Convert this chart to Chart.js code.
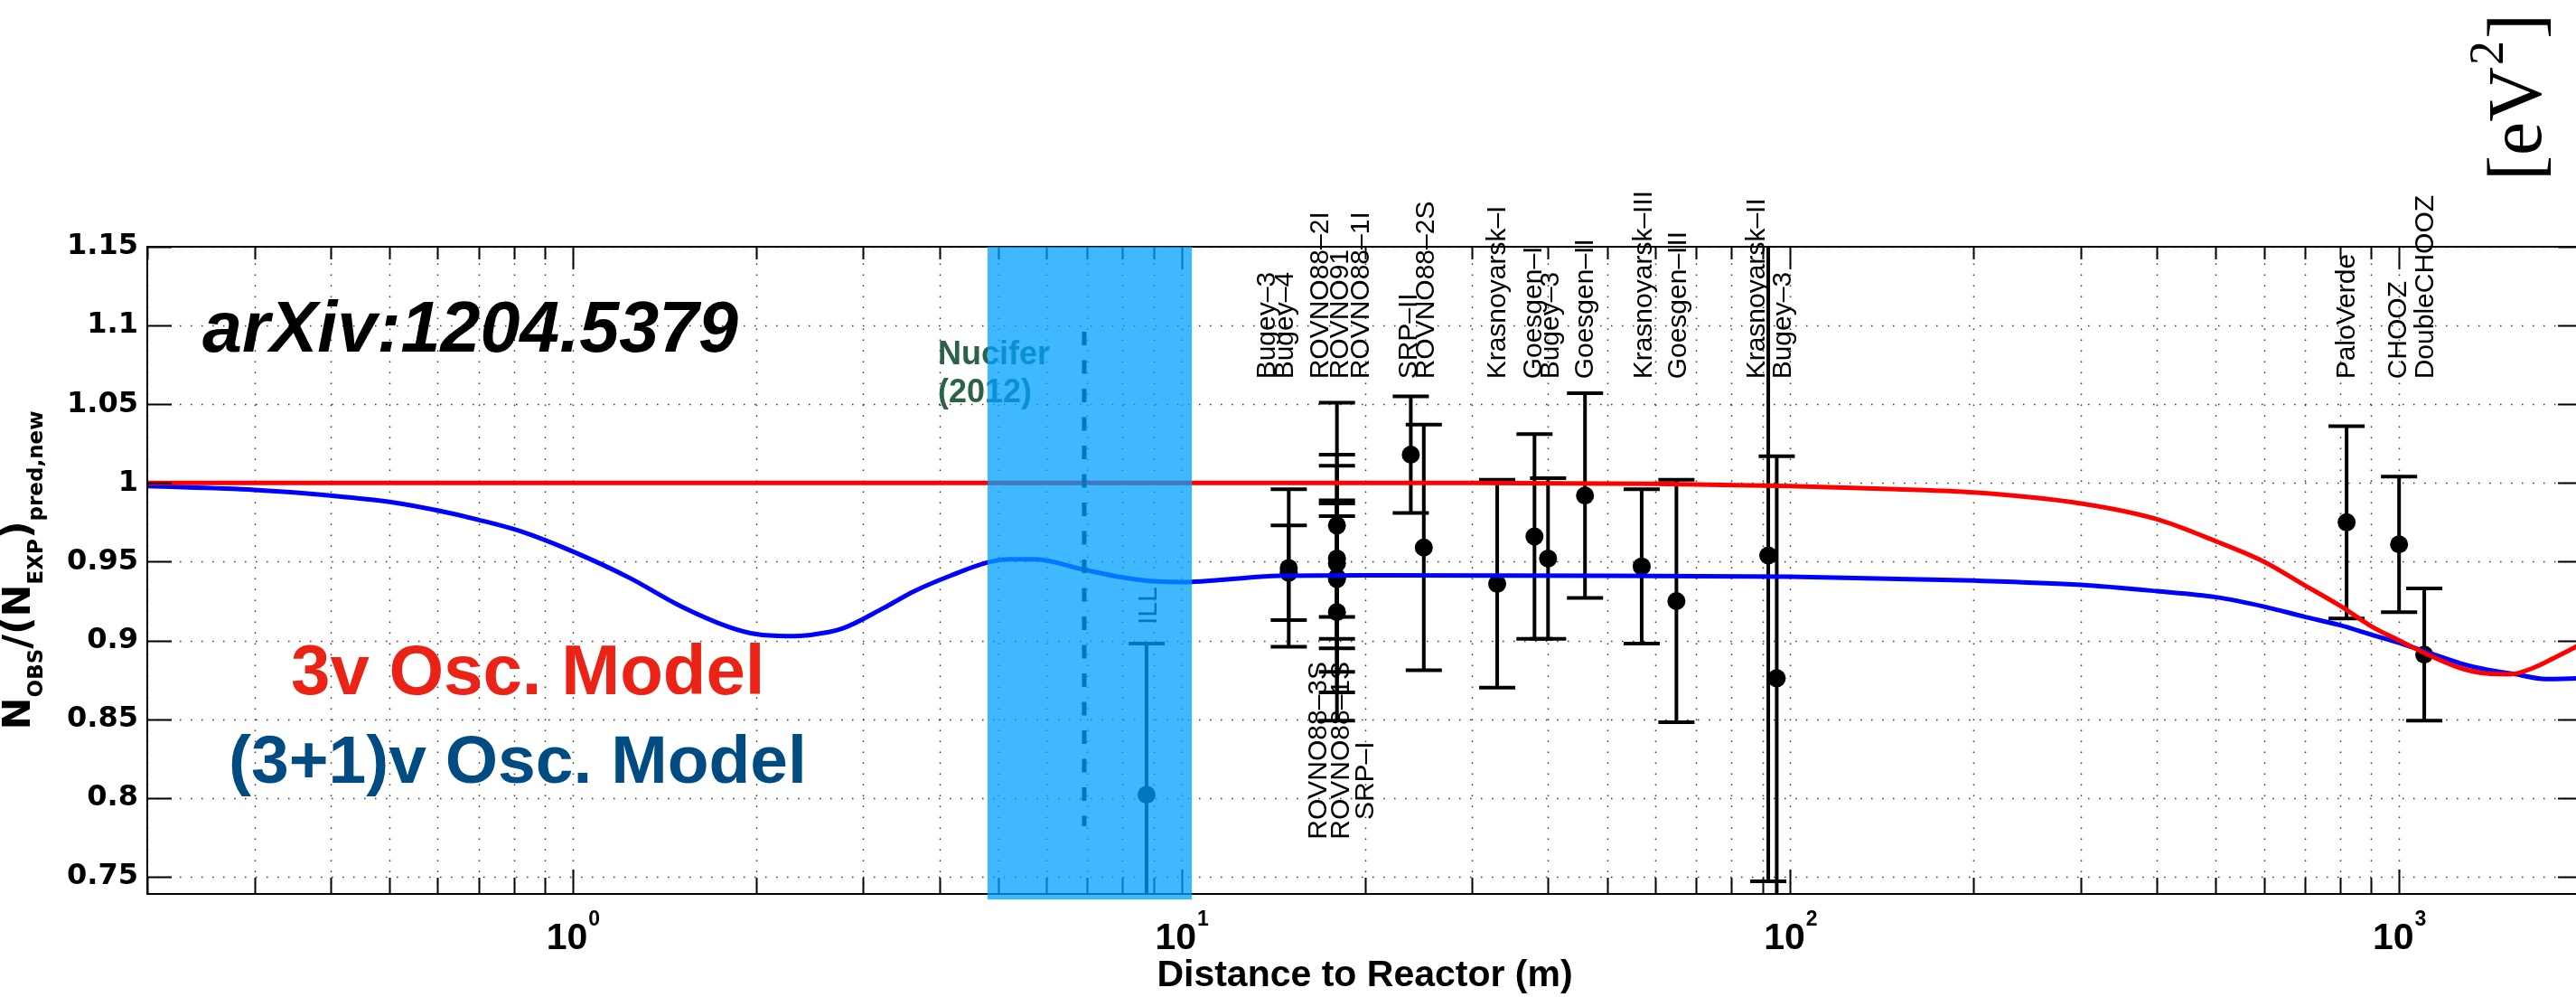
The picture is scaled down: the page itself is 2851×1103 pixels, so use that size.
<!DOCTYPE html>
<html>
<head>
<meta charset="utf-8">
<script src="https://cdn.jsdelivr.net/npm/chart.js@4.4.1/dist/chart.umd.min.js"></script>
<style>
  html, body { margin: 0; padding: 0; background: #fff; overflow: hidden; }
  canvas { display: block; }
</style>
</head>
<body>
<canvas id="reactorChart" width="2870" height="1103"></canvas>
<script>
// 3 flavour oscillation curve
var redDist = [0.2, 1, 10, 30, 60, 100, 150, 200, 300, 400, 500, 600, 700, 800, 900, 1000, 1130, 1260, 1390, 1520, 1660, 1800, 2000];
var redRatio = [1.0, 1.0, 1.0, 1.0, 0.9995, 0.998, 0.996, 0.994, 0.987, 0.977, 0.963, 0.950, 0.935, 0.922, 0.909, 0.900, 0.890, 0.8825, 0.879, 0.8785, 0.8825, 0.889, 0.898];

// 3+1 oscillation curve
var blueDist = [0.2, 0.3, 0.4, 0.5, 0.6, 0.7, 0.82, 1.0, 1.24, 1.5, 1.8, 2.0, 2.25, 2.46, 2.77, 3.24, 3.64, 4.16, 4.82, 5.2, 5.75, 6.9, 8.0, 9.1, 10.1, 11.6, 14.5, 20, 50, 100, 200, 300, 400, 500, 600, 700, 800, 900, 1000, 1130, 1260, 1390, 1550, 1740, 2000];
var blueRatio = [0.998, 0.9956, 0.992, 0.988, 0.9825, 0.9766, 0.9694, 0.9565, 0.9397, 0.922, 0.9087, 0.904, 0.9028, 0.9035, 0.9075, 0.9206, 0.9313, 0.9409, 0.9497, 0.9516, 0.9516, 0.945, 0.940, 0.9374, 0.9371, 0.9385, 0.941, 0.9413, 0.941, 0.9405, 0.938, 0.9353, 0.9313, 0.9275, 0.9215, 0.915, 0.9097, 0.9037, 0.8985, 0.8916, 0.8855, 0.8815, 0.8786, 0.8755, 0.876];

// measured ratios: Bugey-3, Bugey-4, ROVNO91, ROVNO88-1I/2I/1S/3S, SRP-I, SRP-II, ROVNO88-2S,
// Krasnoyarsk-I, Goesgen-I, Bugey-3, Goesgen-II, Krasnoyarsk-III, Goesgen-III, Krasnoyarsk-II,
// Bugey-3, ILL, PaloVerde, CHOOZ, DoubleCHOOZ
var expDist = [15, 15, 18, 18, 18, 18, 18, 18, 23.8, 25, 33, 38, 40, 46, 57, 65, 92, 95, 8.76, 820, 1000, 1100];
var expRatio = [0.946, 0.943, 0.940, 0.918, 0.949, 0.973, 0.939, 0.952, 1.018, 0.959, 0.936, 0.966, 0.952, 0.992, 0.947, 0.925, 0.954, 0.876, 0.802, 0.975, 0.961, 0.891];
var expError = [0.050, 0.030, 0.039, 0.069, 0.069, 0.078, 0.072, 0.037, 0.037, 0.078, 0.066, 0.065, 0.051, 0.065, 0.049, 0.077, 0.207, 0.141, 0.096, 0.061, 0.043, 0.042];

// experiment name tags (anchored in data units, text runs upward)
var tagText = ['Bugey–3', 'Bugey–4', 'ROVNO88–2I', 'ROVNO91', 'ROVNO88–1I', 'SRP–II', 'ROVNO88–2S',
  'Krasnoyarsk–I', 'Goesgen–I', 'Bugey–3', 'Goesgen–II', 'Krasnoyarsk–III', 'Goesgen–III',
  'Krasnoyarsk–II', 'Bugey–3', 'PaloVerde', 'CHOOZ', 'DoubleCHOOZ',
  'ROVNO88–3S', 'ROVNO88–1S', 'SRP–I', 'ILL'];
var tagDist = [13.84, 14.8, 16.91, 18.27, 19.77, 23.66, 25.27, 33.1, 37.9, 40.5, 46.1, 57.5, 65.5, 88.2, 97.4, 821, 998, 1105, 16.8, 18.33, 20.07, 8.845];
var tagRatio = [1.066, 1.066, 1.066, 1.066, 1.066, 1.066, 1.066, 1.066, 1.066, 1.066, 1.066, 1.066, 1.066, 1.066, 1.066, 1.066, 1.066, 1.066, 0.7736, 0.7736, 0.786, 0.91];

// Nucifer
var nuciferBand = [4.8, 10.4];
var nuciferBandRatio = [0.7355, 1.15];
var nuciferDist = 6.92;
var nuciferRange = [0.782, 1.096];

var xDecades = [1, 10, 100, 1000];
var xDecadeExp = ['0', '1', '2', '3'];
var yTicks = [0.75, 0.8, 0.85, 0.9, 0.95, 1.0, 1.05, 1.1, 1.15];
var yTickLabels = ['0.75', '0.8', '0.85', '0.9', '0.95', '1', '1.05', '1.1', '1.15'];

var xGrid = [];
for (var e = -1; e <= 3; e++) {
  for (var k = 1; k <= 9; k++) {
    var v = +(k * Math.pow(10, e)).toPrecision(3);
    if (v >= 0.2 && v <= 2000) xGrid.push(v);
  }
}

function toPoints(xs, ys) {
  return xs.map(function (x, i) { return { x: x, y: ys[i] }; });
}

function rotatedText(ctx, text, x, y) {
  ctx.save();
  ctx.translate(x, y);
  ctx.rotate(-Math.PI / 2);
  ctx.fillText(text, 0, 0);
  ctx.restore();
}

var decor = {
  id: 'decor',
  beforeDatasetsDraw: function (chart) {
    var ctx = chart.ctx, area = chart.chartArea;
    var xs = chart.scales.x, ys = chart.scales.y;
    ctx.save();
    ctx.strokeStyle = 'rgba(0,0,0,0.8)';
    ctx.lineWidth = 1.5;
    ctx.setLineDash([1.5, 10.5]);
    xGrid.forEach(function (v) {
      var px = Math.round(xs.getPixelForValue(v)) + 0.5;
      ctx.beginPath();
      ctx.moveTo(px, area.bottom);
      ctx.lineTo(px, area.top);
      ctx.stroke();
    });
    yTicks.forEach(function (v) {
      var py = Math.round(ys.getPixelForValue(v)) + 0.5;
      ctx.beginPath();
      ctx.moveTo(area.left, py);
      ctx.lineTo(area.right, py);
      ctx.stroke();
    });
    ctx.setLineDash([]);

    // error bars
    ctx.beginPath();
    ctx.rect(area.left, area.top, area.right - area.left, area.bottom - area.top);
    ctx.clip();
    ctx.strokeStyle = '#000';
    ctx.lineWidth = 4;
    expDist.forEach(function (d, i) {
      var px = xs.getPixelForValue(d);
      var top = ys.getPixelForValue(expRatio[i] + expError[i]);
      var bot = ys.getPixelForValue(expRatio[i] - expError[i]);
      ctx.beginPath();
      ctx.moveTo(px, top); ctx.lineTo(px, bot);
      ctx.moveTo(px - 20, top); ctx.lineTo(px + 20, top);
      ctx.moveTo(px - 20, bot); ctx.lineTo(px + 20, bot);
      ctx.stroke();
    });
    ctx.restore();
  },
  afterDraw: function (chart) {
    var ctx = chart.ctx, area = chart.chartArea;
    var xs = chart.scales.x, ys = chart.scales.y;
    ctx.save();

    // frame and inward ticks
    ctx.strokeStyle = '#000';
    ctx.lineWidth = 2;
    ctx.strokeRect(area.left, area.top, area.right - area.left, area.bottom - area.top);
    ctx.beginPath();
    xGrid.forEach(function (v) {
      var px = Math.round(xs.getPixelForValue(v)) + 0.5;
      var major = xDecades.indexOf(v) >= 0;
      ctx.moveTo(px, area.bottom); ctx.lineTo(px, area.bottom - (major ? 27 : 18));
      ctx.moveTo(px, area.top); ctx.lineTo(px, area.top + (major ? 25 : 14));
    });
    yTicks.forEach(function (v) {
      var py = Math.round(ys.getPixelForValue(v)) + 0.5;
      ctx.moveTo(area.left, py); ctx.lineTo(area.left + 27, py);
      ctx.moveTo(area.right, py); ctx.lineTo(area.right - 27, py);
    });
    ctx.stroke();

    // x tick labels 10^n
    ctx.fillStyle = '#000';
    ctx.textAlign = 'left';
    ctx.textBaseline = 'alphabetic';
    xDecades.forEach(function (v, i) {
      var px = xs.getPixelForValue(v);
      ctx.font = 'bold 41px "Liberation Sans"';
      var w1 = ctx.measureText('10').width;
      ctx.font = 'bold 23px "Liberation Sans"';
      var w2 = ctx.measureText(xDecadeExp[i]).width;
      var x0 = px - (w1 + w2) / 2;
      ctx.font = 'bold 41px "Liberation Sans"';
      ctx.fillText('10', x0, area.bottom + 61);
      ctx.font = 'bold 23px "Liberation Sans"';
      ctx.fillText(xDecadeExp[i], x0 + w1 + 1, area.bottom + 35);
    });

    // axis titles
    ctx.font = 'bold 41px "Liberation Sans"';
    ctx.textAlign = 'center';
    ctx.fillText('Distance to Reactor (m)', (area.left + area.right) / 2, area.bottom + 102);

    var parts = [['N', 0], ['OBS', 1], ['/(N', 0], ['EXP', 1], [')', 0], ['pred,new', 1]];
    var big = 'bold 43px "DejaVu Sans"', small = 'bold 23px "DejaVu Sans"';
    var total = 0;
    parts.forEach(function (p) {
      ctx.font = p[1] ? small : big;
      total += ctx.measureText(p[0]).width;
    });
    ctx.save();
    ctx.translate(33, (area.top + area.bottom) / 2);
    ctx.rotate(-Math.PI / 2);
    ctx.textAlign = 'left';
    var cx = -total / 2;
    parts.forEach(function (p) {
      ctx.font = p[1] ? small : big;
      ctx.fillText(p[0], cx, p[1] ? 14 : 0);
      cx += ctx.measureText(p[0]).width;
    });
    ctx.restore();

    // annotations
    ctx.textAlign = 'left';
    ctx.font = 'italic bold 79px "Liberation Sans"';
    ctx.fillStyle = '#000';
    ctx.fillText('arXiv:1204.5379', 224, 389);
    ctx.font = 'bold 78px "Liberation Sans"';
    ctx.fillStyle = '#eb2316';
    ctx.fillText('3v Osc. Model', 322, 768);
    ctx.font = 'bold 75px "Liberation Sans"';
    ctx.fillStyle = '#004b82';
    ctx.fillText('(3+1)v Osc. Model', 253, 866);
    ctx.font = 'bold 36px "Liberation Sans"';
    ctx.fillStyle = '#2b6348';
    ctx.fillText('Nucifer', 1038, 403);
    ctx.fillText('(2012)', 1038, 445);

    ctx.font = '30px "Liberation Sans"';
    ctx.fillStyle = '#000';
    ctx.textBaseline = 'middle';
    tagText.forEach(function (t, i) {
      rotatedText(ctx, t, xs.getPixelForValue(tagDist[i]), ys.getPixelForValue(tagRatio[i]));
    });

    // colour bar unit, cut at the edge
    ctx.save();
    ctx.translate(2812, 200);
    ctx.rotate(-Math.PI / 2);
    ctx.textBaseline = 'alphabetic';
    ctx.font = '84px "Liberation Serif"';
    ctx.fillText('[eV', 0, 0);
    var wa = ctx.measureText('[eV').width;
    ctx.font = '54px "Liberation Serif"';
    ctx.fillText('2', wa + 2, -42);
    var wb = ctx.measureText('2').width;
    ctx.font = '84px "Liberation Serif"';
    ctx.fillText(']', wa + wb + 4, 0);
    ctx.restore();

    // Nucifer position and acceptance band
    var nx = xs.getPixelForValue(nuciferDist);
    ctx.strokeStyle = '#000';
    ctx.lineWidth = 5;
    ctx.setLineDash([15, 16.5]);
    ctx.beginPath();
    ctx.moveTo(nx, ys.getPixelForValue(nuciferRange[1]));
    ctx.lineTo(nx, ys.getPixelForValue(nuciferRange[0]));
    ctx.stroke();
    ctx.setLineDash([]);

    var bx0 = xs.getPixelForValue(nuciferBand[0]);
    var bx1 = xs.getPixelForValue(nuciferBand[1]);
    var by0 = ys.getPixelForValue(nuciferBandRatio[1]);
    var by1 = ys.getPixelForValue(nuciferBandRatio[0]);
    ctx.fillStyle = 'rgba(0,160,255,0.75)';
    ctx.fillRect(bx0, by0, bx1 - bx0, by1 - by0);
    ctx.restore();
  }
};

var ctx = document.getElementById('reactorChart').getContext('2d');
var chart = new Chart(ctx, {
  type: 'scatter',
  data: {
    datasets: [{
      label: '3v Osc. Model',
      data: toPoints(redDist, redRatio),
      showLine: true,
      borderColor: '#ff0000',
      borderWidth: 5,
      pointRadius: 0,
      cubicInterpolationMode: 'monotone'
    }, {
      label: '(3+1)v Osc. Model',
      data: toPoints(blueDist, blueRatio),
      showLine: true,
      borderColor: '#0000ff',
      borderWidth: 5,
      pointRadius: 0,
      cubicInterpolationMode: 'monotone'
    }, {
      label: 'Data',
      data: toPoints(expDist, expRatio),
      showLine: false,
      pointRadius: 10,
      pointBackgroundColor: '#000',
      pointBorderWidth: 0,
      pointBorderColor: '#000'
    }]
  },
  options: {
    responsive: false,
    animation: false,
    devicePixelRatio: 1,
    layout: { autoPadding: false, padding: { top: 273, right: 12, bottom: 0, left: 0 } },
    plugins: { legend: { display: false }, tooltip: { enabled: false } },
    scales: {
      x: {
        type: 'logarithmic',
        min: 0.2,
        max: 2000,
        ticks: { display: false },
        grid: { display: false, drawTicks: false },
        border: { display: false },
        afterFit: function (scale) { scale.height = 114; }
      },
      y: {
        min: 0.739,
        max: 1.15,
        afterBuildTicks: function (scale) {
          scale.ticks = yTicks.map(function (v) { return { value: v }; });
        },
        ticks: {
          color: '#000',
          padding: 10,
          font: { family: 'DejaVu Sans', weight: 'bold', size: 32 },
          callback: function (value) { return yTickLabels[yTicks.indexOf(value)]; }
        },
        grid: { display: false, drawTicks: false },
        border: { display: false },
        afterFit: function (scale) { scale.width = 163; }
      }
    }
  },
  plugins: [decor]
});
</script>
</body>
</html>
